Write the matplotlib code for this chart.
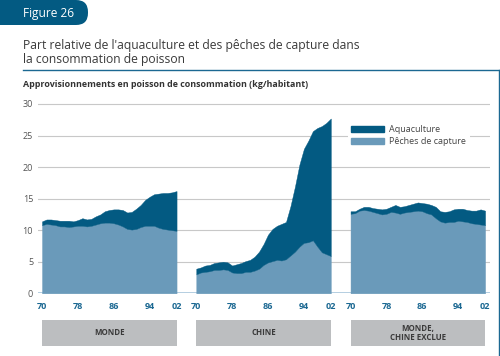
import matplotlib
matplotlib.use('Agg')
import matplotlib.pyplot as plt
from matplotlib.patches import FancyBboxPatch, Patch
import numpy as np

plt.rcParams['font.family'] = ['Open Sans', 'DejaVu Sans']

# Données (kg/habitant), 1970-2000
annees = list(range(1970, 2001))
tick_annees = [1970, 1978, 1986, 1994, 2000]
tick_labels = ['70', '78', '86', '94', '02']
panneaux = ['MONDE', 'CHINE', 'MONDE,\nCHINE EXCLUE']

capture_monde = [10.8, 11.0, 10.9, 10.8, 10.6, 10.6, 10.5, 10.6, 10.7, 10.7,
                 10.6, 10.7, 10.9, 11.1, 11.2, 11.2, 11.1, 10.9, 10.6, 10.2,
                 10.1, 10.2, 10.5, 10.7, 10.7, 10.7, 10.4, 10.2, 10.1, 10.0, 9.9]
aqua_monde = [0.6, 0.7, 0.8, 0.8, 0.9, 0.9, 1.0, 0.8, 0.9, 1.2,
              1.1, 1.1, 1.3, 1.4, 1.8, 2.0, 2.2, 2.4, 2.6, 2.6,
              2.8, 3.2, 3.5, 4.1, 4.6, 5.0, 5.4, 5.7, 5.8, 6.0, 6.3]

capture_chine = [3.0, 3.3, 3.4, 3.5, 3.7, 3.7, 3.8, 3.7, 3.3, 3.2,
                 3.2, 3.4, 3.4, 3.6, 3.9, 4.5, 4.9, 5.1, 5.3, 5.2,
                 5.4, 6.0, 6.6, 7.4, 8.0, 8.1, 8.4, 7.4, 6.5, 6.2, 5.9]
aqua_chine = [0.9, 0.8, 1.0, 1.0, 1.1, 1.2, 1.2, 1.2, 1.1, 1.4,
              1.6, 1.7, 1.9, 2.2, 2.7, 3.3, 4.4, 5.1, 5.4, 5.8,
              5.9, 7.8, 10.3, 13.0, 14.9, 16.1, 17.3, 18.8, 20.0, 20.8, 21.8]

capture_hors_chine = [12.6, 12.7, 13.1, 13.2, 13.1, 12.9, 12.7, 12.5, 12.6, 12.9,
                      12.8, 12.6, 12.8, 12.9, 13.0, 13.1, 13.0, 12.7, 12.5, 11.9,
                      11.4, 11.2, 11.3, 11.3, 11.5, 11.4, 11.3, 11.1, 11.0, 10.9, 10.8]
aqua_hors_chine = [0.4, 0.3, 0.3, 0.5, 0.6, 0.6, 0.7, 0.8, 0.8, 0.8,
                   1.2, 1.1, 1.0, 1.1, 1.2, 1.3, 1.3, 1.5, 1.5, 1.8,
                   1.6, 1.7, 1.7, 2.0, 1.9, 2.0, 1.9, 2.0, 2.1, 2.4, 2.3]

captures = [capture_monde, capture_chine, capture_hors_chine]
aquas = [aqua_monde, aqua_chine, aqua_hors_chine]

bleu_fonce = '#035a82'
bleu_clair = '#6a9aba'
bleu_trait = '#1b6892'
decalage = 34.4  # ecart entre panneaux (en annees)

fig = plt.figure(figsize=(5, 3.56), dpi=100)

# calque de fond en pixels
bg = fig.add_axes([0, 0, 1, 1], zorder=-1)
bg.set_xlim(0, 500)
bg.set_ylim(356, 0)
bg.axis('off')
bg.add_patch(FancyBboxPatch((-20, 0), 108, 25, boxstyle='round,pad=0,rounding_size=12',
                            fc=bleu_fonce, ec='none'))
bg.text(23, 17.5, 'Figure 26', color='white', fontsize=8.6, va='baseline')
bg.text(23, 49, "Part relative de l'aquaculture et des pêches de capture dans",
        color='#3a3a3a', fontsize=8.75, va='baseline')
bg.text(23, 63, 'la consommation de poisson', color='#3a3a3a', fontsize=8.75, va='baseline')
bg.plot([23, 500], [70, 70], color=bleu_trait, lw=1.0)
bg.plot([499, 499], [70, 356], color=bleu_trait, lw=1.0)
bg.text(23, 87, 'Approvisionnements en poisson de consommation (kg/habitant)',
        color='#333333', fontsize=6.4, fontweight='bold', va='baseline')

ax = fig.add_axes([0.076, 0.1761, 0.904, 0.5371])
ax.set_facecolor('none')
ticks_x, labels_x = [], []
for i in range(3):
    x = np.array(annees) - 1970 + i * decalage
    cap = np.array(captures[i])
    tot = cap + np.array(aquas[i])
    ax.fill_between(x, 0, cap, color=bleu_clair, lw=0.3, ec=bleu_clair, zorder=2)
    ax.fill_between(x, cap, tot, color=bleu_fonce, lw=0.3, ec=bleu_fonce, zorder=2)
    ticks_x += [t - 1970 + i * decalage for t in tick_annees]
    labels_x += tick_labels

ax.set_xlim(-0.9, 99.9)
ax.set_ylim(0, 30.3)
ax.set_yticks([0, 5, 10, 15, 20, 25, 30])
ax.set_xticks(ticks_x)
ax.set_xticklabels(labels_x)
ax.tick_params(axis='y', length=0, pad=3.5, labelsize=6.5, labelcolor='#555555')
ax.tick_params(axis='x', length=0, pad=6, labelsize=6.5, labelcolor=bleu_trait)
for t in ax.get_xticklabels():
    t.set_fontweight('bold')
ax.grid(axis='y', color='#c8c8c8', lw=0.8)
ax.set_axisbelow(True)
ax.axhline(0, color='#a9c7dc', lw=1.2, zorder=1)
for s in ax.spines.values():
    s.set_visible(False)

ax.legend(handles=[Patch(color=bleu_fonce, label='Aquaculture'),
                   Patch(color=bleu_clair, label='Pêches de capture')],
          loc='upper left', bbox_to_anchor=(343, 117), bbox_transform=bg.transData,
          frameon=True, facecolor='white', edgecolor='none', framealpha=1,
          fancybox=False, fontsize=6.5, handlelength=3.6, handleheight=0.55,
          handletextpad=0.6, labelspacing=0.35, borderpad=0.4, labelcolor='#444444')

# bandeaux des panneaux
lab = fig.add_axes([0.076, 0.0289, 0.904, 0.0722], sharex=ax)
lab.set_ylim(0, 1)
lab.axis('off')
for i, nom in enumerate(panneaux):
    x0 = i * decalage
    lab.axvspan(x0, x0 + 30, color='#bcbec0', lw=0)
    lab.text(x0 + 15, 0.5, nom, ha='center', va='center', fontsize=5.7,
             fontweight='bold', color='#3a3a3a', linespacing=1.1)

fig.savefig('out.png', dpi=100)
